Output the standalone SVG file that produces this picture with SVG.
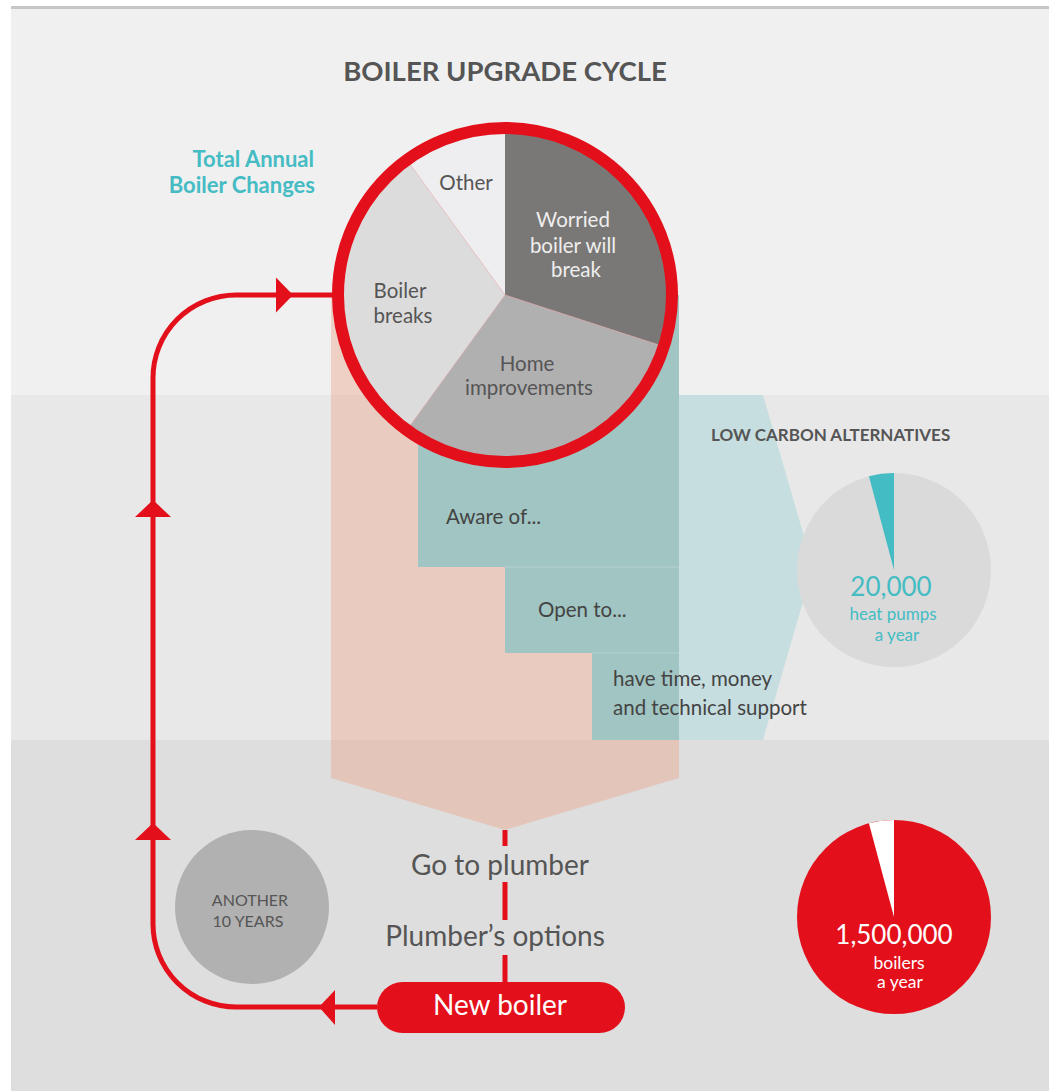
<svg xmlns="http://www.w3.org/2000/svg" width="1049" height="1091" viewBox="0 0 1049 1091">
<style>
text{font-family:Lato,"Open Sans","Liberation Sans",sans-serif;}
.dark{fill:#555555;}
.lbl{font-size:20.5px;fill:#555555;}
.wlbl{font-size:20.5px;fill:#eeeeee;}
.step{font-size:20.5px;fill:#444444;}
.big{font-size:28px;}
.wht{fill:#ffffff;}
.red{fill:#e3101b;}
.redline{fill:none;stroke:#e3101b;stroke-width:5;}
.sep{stroke:#e9a2a2;stroke-width:0.6;}
.teal{fill:#44bcc4;}
</style>
<!-- background bands -->
<rect x="11" y="6" width="1038" height="3" fill="#c6c6c6"/>
<rect x="11" y="9" width="1038" height="386" fill="#f0f0f0"/>
<rect x="11" y="395" width="1038" height="345" fill="#e8e8e8"/>
<rect x="11" y="740" width="1038" height="351" fill="#dedede"/>

<text x="505" y="81" text-anchor="middle" class="dark" font-size="27.5" font-weight="bold">BOILER UPGRADE CYCLE</text>

<g id="funnel">
<polygon points="331,295 679,295 679,778 505,830 331,778" fill="rgb(235,160,130)" fill-opacity="0.4"/>
</g>
<g id="steps">
<polygon points="418,295 679,295 679,740 592,740 592,653 505,653 505,567 418,567" fill="#a1c5c2"/>
<line x1="505" y1="567" x2="679" y2="567" stroke="#b4d2cf" stroke-width="1"/>
<line x1="592" y1="653" x2="679" y2="653" stroke="#b4d2cf" stroke-width="1"/>
</g>
<g id="low-carbon-arrow">
<polygon points="679,395 763,395 813,567 763,740 679,740" fill="#c7dee0"/>
</g>
<g id="step-labels">
<text x="446" y="524" class="step">Aware of...</text>
<text x="538" y="617" class="step">Open to...</text>
<text x="613" y="686" class="step">have time, money</text>
<text x="613" y="715" class="step">and technical support</text>
</g>
<text x="711" y="441" class="dark" font-size="17" font-weight="bold">LOW CARBON ALTERNATIVES</text>

<g id="heat-pumps">
<circle cx="894" cy="570" r="97" fill="#dadada"/>
<path d="M894,570 L868.9,476.3 A97,97 0 0 1 894,473 Z" class="teal"/>
<text x="891" y="596" text-anchor="middle" font-size="26" class="teal">20,000</text>
<text x="893" y="620" text-anchor="middle" font-size="17" class="teal">heat pumps</text>
<text x="897" y="641" text-anchor="middle" font-size="17" class="teal">a year</text>
</g>

<g id="boilers-year">
<circle cx="894" cy="917" r="97" class="red"/>
<path d="M894,917 L868.9,823.3 A97,97 0 0 1 894,820 Z" fill="#ffffff"/>
<text x="894" y="944" text-anchor="middle" font-size="26" class="wht">1,500,000</text>
<text x="899" y="969" text-anchor="middle" font-size="17.5" class="wht">boilers</text>
<text x="900" y="988" text-anchor="middle" font-size="17.5" class="wht">a year</text>
</g>

<g id="total-annual-label">
<text x="314" y="167" text-anchor="end" font-size="22" font-weight="bold" fill="#45bcc4">Total Annual</text>
<text x="315" y="193" text-anchor="end" font-size="22" font-weight="bold" fill="#45bcc4">Boiler Changes</text>
</g>

<g id="connectors">
<path class="redline" d="M377,1007 H236 A83,83 0 0 1 153,924 V378 A83,83 0 0 1 236,295 H334"/>
<path d="M293,295 L276,277.5 L276,312.5 Z" class="red"/>
<path d="M153,500 L135,517 L171,517 Z" class="red"/>
<path d="M153,823 L135,840 L171,840 Z" class="red"/>
<path d="M319,1007 L335,990 L335,1025 Z" class="red"/>
<path class="redline" d="M505,830 V846 M505,882 V920 M505,955 V983"/>
</g>

<g id="annual-changes-pie">
<path d="M505,295 L505,128 A167,167 0 0 1 663.8,346.6 Z" fill="#7a7876"/>
<path d="M505,295 L663.8,346.6 A167,167 0 0 1 406.8,430.1 Z" fill="#b1b0b1"/>
<path d="M505,295 L406.8,430.1 A167,167 0 0 1 406.8,159.9 Z" fill="#dcdcdc"/>
<path d="M505,295 L406.8,159.9 A167,167 0 0 1 505,128 Z" fill="#eeeef0"/>
<path class="sep" d="M505,295 L663.8,346.6 M505,295 L406.8,430.1 M505,295 L406.8,159.9"/>
<circle cx="505" cy="295" r="167" fill="none" stroke="#e3101b" stroke-width="12"/>
<text x="466" y="190" text-anchor="middle" class="lbl">Other</text>
<text x="573" y="227" text-anchor="middle" class="wlbl">Worried</text>
<text x="573" y="253" text-anchor="middle" class="wlbl">boiler will</text>
<text x="576" y="277" text-anchor="middle" class="wlbl">break</text>
<text x="400" y="298" text-anchor="middle" class="lbl">Boiler</text>
<text x="403" y="323" text-anchor="middle" class="lbl">breaks</text>
<text x="527" y="371" text-anchor="middle" class="lbl">Home</text>
<text x="529" y="395" text-anchor="middle" class="lbl">improvements</text>
</g>

<g id="another-10-years">
<circle cx="252" cy="907" r="77" fill="#b1b1b1"/>
<text x="250" y="906" text-anchor="middle" font-size="16" class="dark">ANOTHER</text>
<text x="248" y="927" text-anchor="middle" font-size="16" class="dark">10 YEARS</text>
</g>

<g id="go-to-plumber">
<text x="500" y="875" text-anchor="middle" class="big dark">Go to plumber</text>
</g>
<g id="plumbers-options">
<text x="495" y="946" text-anchor="middle" class="big dark">Plumber’s options</text>
</g>
<g id="new-boiler">
<rect x="377" y="982" width="248" height="51" rx="25.5" class="red"/>
<text x="500" y="1015" text-anchor="middle" class="big wht">New boiler</text>
</g>
</svg>
